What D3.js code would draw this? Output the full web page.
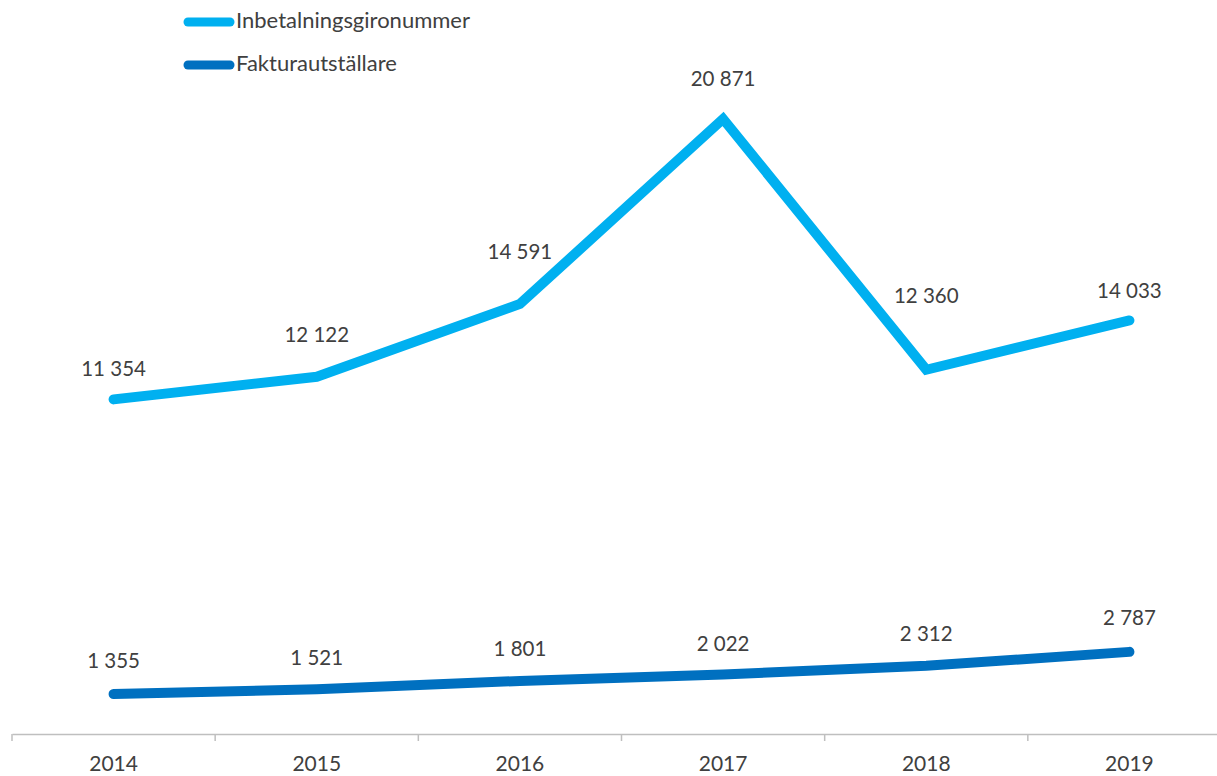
<!DOCTYPE html>
<html><head><meta charset="utf-8">
<script src="https://cdn.jsdelivr.net/npm/d3@7"></script>
<style>body{margin:0;background:#fff}svg text{font-family:Lato,"Open Sans",sans-serif;fill:#404040}</style>
</head><body><svg id="c" width="1217" height="776"></svg>
<script>
const years = ["2014","2015","2016","2017","2018","2019"];
const inbetalning = [11354,12122,14591,20871,12360,14033];
const faktura = [1355,1521,1801,2022,2312,2787];
const seriesNames = ["Inbetalningsgironummer","Fakturautställare"];
const colors = ["#00B0F0","#0070C0"];
// label vertical offsets (layout)
const lblDy = [[-29,-40,-50,-38,-72,-28],[-31,-29,-30,-29,-30,-32]];

const svg = d3.select("#c");
const x = d3.scaleBand().domain(years).range([12,1231]);
const y = d3.scaleLinear().domain([0,24000]).range([734,26.7]);
const fmt = v => d3.format(",")(v).replace(/,/g," ");

const axis = svg.append("g").attr("transform","translate(0,734)")
  .call(d3.axisBottom(x).tickSize(0).tickPadding(0));
axis.select(".domain").attr("stroke","#bfbfbf").attr("stroke-width",1.5);
axis.selectAll("text").attr("dy",null).attr("y",32).attr("dominant-baseline","middle")
  .style("font-size","21px").style("font-family","Lato,sans-serif").attr("fill","#404040");
const bounds = [12,...years.map(d=>x(d)+x.bandwidth())];
svg.selectAll(".tk").data(bounds).enter().append("line")
  .attr("x1",d=>d).attr("x2",d=>d).attr("y1",734).attr("y2",741)
  .attr("stroke","#bfbfbf").attr("stroke-width",1.5);

const data = [inbetalning, faktura];
const line = d3.line().x((d,i)=>x(years[i])+x.bandwidth()/2).y(d=>y(d));
data.forEach((s,k)=>{
  svg.append("path").datum(s).attr("d",line).attr("fill","none")
    .attr("stroke",colors[k]).attr("stroke-width",10)
    .attr("stroke-linecap","round").attr("stroke-linejoin","miter");
  svg.selectAll(".l"+k).data(s).enter().append("text")
    .attr("x",(d,i)=>x(years[i])+x.bandwidth()/2)
    .attr("y",(d,i)=>y(d)+lblDy[k][i])
    .attr("text-anchor","middle").attr("dominant-baseline","middle")
    .style("font-size","20.5px").text(fmt);
});

const leg = svg.append("g");
seriesNames.forEach((n,k)=>{
  const yy = 22 + k*43;
  leg.append("line").attr("x1",188).attr("x2",230).attr("y1",yy).attr("y2",yy)
    .attr("stroke",colors[k]).attr("stroke-width",9).attr("stroke-linecap","round");
  leg.append("text").attr("x",236).attr("y",yy).attr("dominant-baseline","middle")
    .style("font-size","22px").text(n);
});
</script></body></html>
